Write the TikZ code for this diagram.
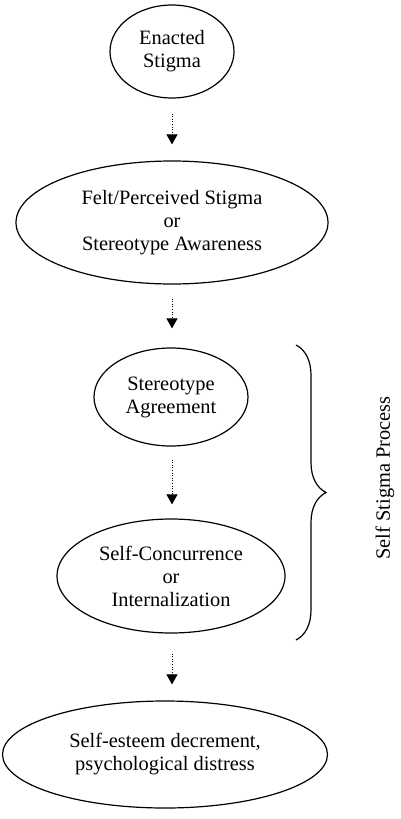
\documentclass[tikz,border=0pt]{standalone}
\usepackage{fontspec}
\setmainfont{Liberation Serif}
\usetikzlibrary{shapes.geometric,arrows.meta,decorations.pathreplacing}
\begin{document}
\begin{tikzpicture}[x=1pt,y=-1pt,
  oval/.style={draw,ellipse,line width=1.2pt,inner sep=0pt,align=center,
    font=\fontsize{20.4}{23}\selectfont},
  flow/.style={line width=0.9pt,dash pattern=on 1pt off 1.6pt,
    -{Triangle[width=11pt,length=10pt]}},
  bracestyle/.style={line width=1.2pt,decorate,
    decoration={brace,amplitude=30pt,aspect=0.5}}]
\useasboundingbox (0,0) rectangle (400,819);
\node[oval,minimum width=124pt,minimum height=93pt] (e1) at (172,51.5) {Enacted\\Stigma};
\node[oval,minimum width=312pt,minimum height=123pt] (e2) at (172,222.5) {Felt/Perceived Stigma\\or\\Stereotype Awareness};
\node[oval,minimum width=154pt,minimum height=98pt] (e3) at (171,397) {Stereotype\\Agreement};
\node[oval,minimum width=228pt,minimum height=114pt] (e4) at (171,576) {Self-Concurrence\\or\\Internalization};
\node[oval,minimum width=325pt,minimum height=107pt] (e5) at (165,754.5) {Self-esteem decrement,\\psychological distress};
\draw[flow,shorten <=15pt,shorten >=16pt] (e1.south) -- (e1.south |- e2.north);
\draw[flow,shorten <=14pt,shorten >=19pt] (e2.south) -- (e2.south |- e3.north);
\draw[flow,shorten <=13pt,shorten >=14pt] (e2.south |- e3.south) -- (e2.south |- e4.north);
\draw[flow,shorten <=20pt,shorten >=16pt] (e2.south |- e4.south) -- (e2.south |- e5.north);
\coordinate (btop) at (296,345);
\coordinate (bbot) at (296,640);
\draw[bracestyle] (btop) -- (bbot);
\node[rotate=90,font=\fontsize{20.4}{23}\selectfont] (lbl) at (385,478) {Self Stigma Process};
\end{tikzpicture}
\end{document}
